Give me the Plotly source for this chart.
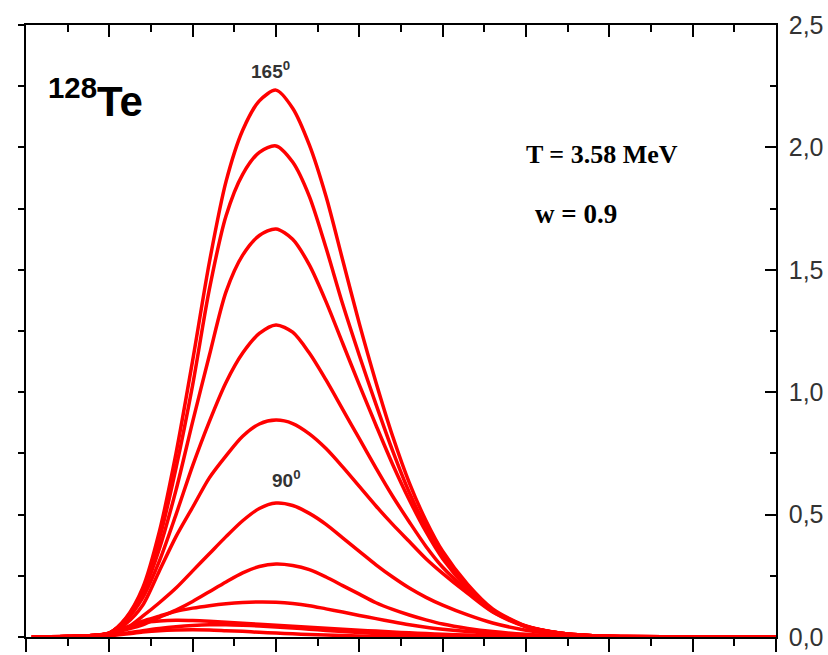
import plotly.graph_objects as go

# Energy grid shared by all curves (arbitrary units, axis runs 0..9)
x_grid = [0.07, 0.5, 0.8, 1.0, 1.2, 1.4, 1.6, 1.8, 2.0, 2.2, 2.4, 2.6, 2.8, 3.0,
          3.2, 3.4, 3.6, 3.8, 4.0, 4.2, 4.4, 4.6, 4.8, 5.0, 5.3, 5.6, 6.0, 6.4,
          6.8, 7.2, 8.0, 9.0]

# Spectra for each emission angle (degrees)
y_165 = [0.000, 0.002, 0.006, 0.016, 0.078, 0.20, 0.43, 0.75, 1.13, 1.53, 1.86, 2.07,
         2.19, 2.234, 2.16, 2.01, 1.80, 1.54, 1.28, 1.04, 0.82, 0.63, 0.475, 0.35,
         0.215, 0.115, 0.045, 0.016, 0.005, 0.002, 0.0, 0.0]
y_150 = [0.000, 0.002, 0.006, 0.016, 0.075, 0.19, 0.40, 0.69, 1.03, 1.42, 1.72, 1.89,
         1.98, 2.006, 1.94, 1.80, 1.59, 1.36, 1.15, 0.95, 0.76, 0.59, 0.45, 0.335,
         0.205, 0.11, 0.044, 0.016, 0.005, 0.002, 0.0, 0.0]
y_135 = [0.000, 0.002, 0.006, 0.016, 0.072, 0.18, 0.36, 0.60, 0.88, 1.15, 1.41, 1.56,
         1.64, 1.667, 1.625, 1.52, 1.37, 1.20, 1.03, 0.865, 0.705, 0.56, 0.43, 0.32,
         0.198, 0.107, 0.043, 0.016, 0.005, 0.002, 0.0, 0.0]
y_120 = [0.000, 0.002, 0.006, 0.016, 0.068, 0.16, 0.31, 0.50, 0.70, 0.88, 1.04, 1.16,
         1.24, 1.275, 1.245, 1.16, 1.05, 0.93, 0.81, 0.69, 0.575, 0.47, 0.37, 0.285,
         0.188, 0.104, 0.043, 0.016, 0.005, 0.002, 0.0, 0.0]
y_105 = [0.000, 0.002, 0.006, 0.016, 0.055, 0.13, 0.27, 0.41, 0.53, 0.65, 0.74, 0.82,
         0.87, 0.886, 0.872, 0.83, 0.77, 0.695, 0.615, 0.535, 0.46, 0.39, 0.32, 0.26,
         0.178, 0.102, 0.042, 0.016, 0.005, 0.002, 0.0, 0.0]
y_90 = [0.000, 0.002, 0.006, 0.015, 0.035, 0.085, 0.14, 0.20, 0.27, 0.34, 0.41, 0.475,
        0.525, 0.547, 0.537, 0.505, 0.46, 0.405, 0.35, 0.295, 0.245, 0.20, 0.162, 0.13,
        0.09, 0.057, 0.028, 0.011, 0.004, 0.001, 0.0, 0.0]
y_75 = [0.000, 0.002, 0.005, 0.012, 0.030, 0.050, 0.080, 0.110, 0.145, 0.185, 0.225,
        0.262, 0.288, 0.298, 0.292, 0.275, 0.245, 0.21, 0.175, 0.14, 0.113, 0.09,
        0.07, 0.053, 0.035, 0.022, 0.011, 0.005, 0.002, 0.001, 0.0, 0.0]
y_60 = [0.000, 0.002, 0.005, 0.012, 0.035, 0.065, 0.085, 0.105, 0.118, 0.128, 0.136,
        0.141, 0.143, 0.142, 0.137, 0.128, 0.115, 0.102, 0.088, 0.075, 0.062, 0.05,
        0.04, 0.032, 0.022, 0.014, 0.007, 0.003, 0.001, 0.0, 0.0, 0.0]
y_45 = [0.000, 0.002, 0.006, 0.015, 0.040, 0.058, 0.065, 0.068, 0.067, 0.064, 0.060,
        0.056, 0.052, 0.048, 0.044, 0.040, 0.036, 0.032, 0.028, 0.024, 0.020, 0.017,
        0.014, 0.011, 0.008, 0.005, 0.003, 0.001, 0.0, 0.0, 0.0, 0.0]
y_30 = [0.000, 0.002, 0.004, 0.008, 0.016, 0.026, 0.035, 0.042, 0.047, 0.050, 0.050,
        0.048, 0.045, 0.041, 0.037, 0.032, 0.027, 0.022, 0.018, 0.014, 0.011, 0.008,
        0.006, 0.004, 0.002, 0.001, 0.0, 0.0, 0.0, 0.0, 0.0, 0.0]
y_15 = [0.000, 0.001, 0.002, 0.005, 0.012, 0.020, 0.026, 0.029, 0.030, 0.029, 0.026,
        0.023, 0.019, 0.016, 0.013, 0.010, 0.008, 0.006, 0.004, 0.003, 0.002, 0.001,
        0.001, 0.0, 0.0, 0.0, 0.0, 0.0, 0.0, 0.0, 0.0, 0.0]

series = [y_165, y_150, y_135, y_120, y_105, y_90, y_75, y_60, y_45, y_30, y_15]

fig = go.Figure()
for ys in series:
    fig.add_trace(go.Scatter(
        x=x_grid, y=ys, mode="lines",
        line=dict(color="#ff0000", width=3.5, shape="spline", smoothing=0.8),
        showlegend=False, hoverinfo="skip",
    ))

# invisible trace to carry the mirrored top/left axes
fig.add_trace(go.Scatter(x=[0], y=[0], xaxis="x2", yaxis="y2", mode="markers",
                         marker=dict(opacity=0), showlegend=False, hoverinfo="skip"))

label_font = dict(family="Liberation Sans, Arial, sans-serif", size=25, color="#333333")
tick_style = dict(tickwidth=1.5, tickcolor="black")

fig.update_layout(
    width=828, height=655,
    margin=dict(l=26, r=52, t=25, b=18),
    paper_bgcolor="white", plot_bgcolor="white",
    separators=",.",
    xaxis=dict(range=[0, 9], showgrid=False, zeroline=False, showline=True,
               linecolor="black", linewidth=1.5, ticks="outside", tickmode="linear",
               tick0=0, dtick=1, ticklen=13, automargin=False,
               minor=dict(ticks="outside", dtick=0.5, ticklen=7, **tick_style),
               showticklabels=False, **tick_style),
    xaxis2=dict(range=[0, 9], overlaying="x", side="top", showgrid=False,
                zeroline=False, showline=True, linecolor="black", linewidth=1.5,
                ticks="inside", tickmode="linear", tick0=0, dtick=1, ticklen=12,
                automargin=False,
                minor=dict(ticks="inside", dtick=0.5, ticklen=7, **tick_style),
                showticklabels=False, **tick_style),
    yaxis=dict(range=[0, 2.5], side="right", showgrid=False, zeroline=False,
               showline=True, linecolor="black", linewidth=1.5, ticks="inside",
               tickmode="linear", tick0=0, dtick=0.5, ticklen=11,
               tickformat=".1f", tickfont=label_font, ticklabelstandoff=6,
               automargin=False,
               minor=dict(ticks="inside", dtick=0.25, ticklen=6, **tick_style),
               **tick_style),
    yaxis2=dict(range=[0, 2.5], overlaying="y", side="left", showgrid=False,
                zeroline=False, showline=True, linecolor="black", linewidth=1.5,
                ticks="outside", tickmode="linear", tick0=0, dtick=0.25, ticklen=6,
                automargin=False, showticklabels=False, **tick_style),
)

sans = "Liberation Sans, Arial, sans-serif"
serif = "Liberation Serif, Times New Roman, serif"
annotations = [
    dict(x=0.24, y=2.2, xanchor="left", yanchor="middle",
         text="<b><sup>128</sup>Te</b>",
         font=dict(family=sans, size=42, color="black")),
    dict(x=2.93, y=2.316, xanchor="center", yanchor="middle",
         text="<b>165<sup>0</sup></b>",
         font=dict(family=sans, size=19, color="#333333")),
    dict(x=3.13, y=0.645, xanchor="center", yanchor="middle",
         text="<b>90<sup>0</sup></b>",
         font=dict(family=sans, size=19, color="#333333")),
    dict(x=5.98, y=1.97, xanchor="left", yanchor="middle",
         text="<b>T = 3.58 MeV</b>",
         font=dict(family=serif, size=26, color="black")),
    dict(x=6.08, y=1.73, xanchor="left", yanchor="middle",
         text="<b>w = 0.9</b>",
         font=dict(family=serif, size=27, color="black")),
]
for a in annotations:
    fig.add_annotation(showarrow=False, xref="x", yref="y", **a)

fig.write_html("out.html")
